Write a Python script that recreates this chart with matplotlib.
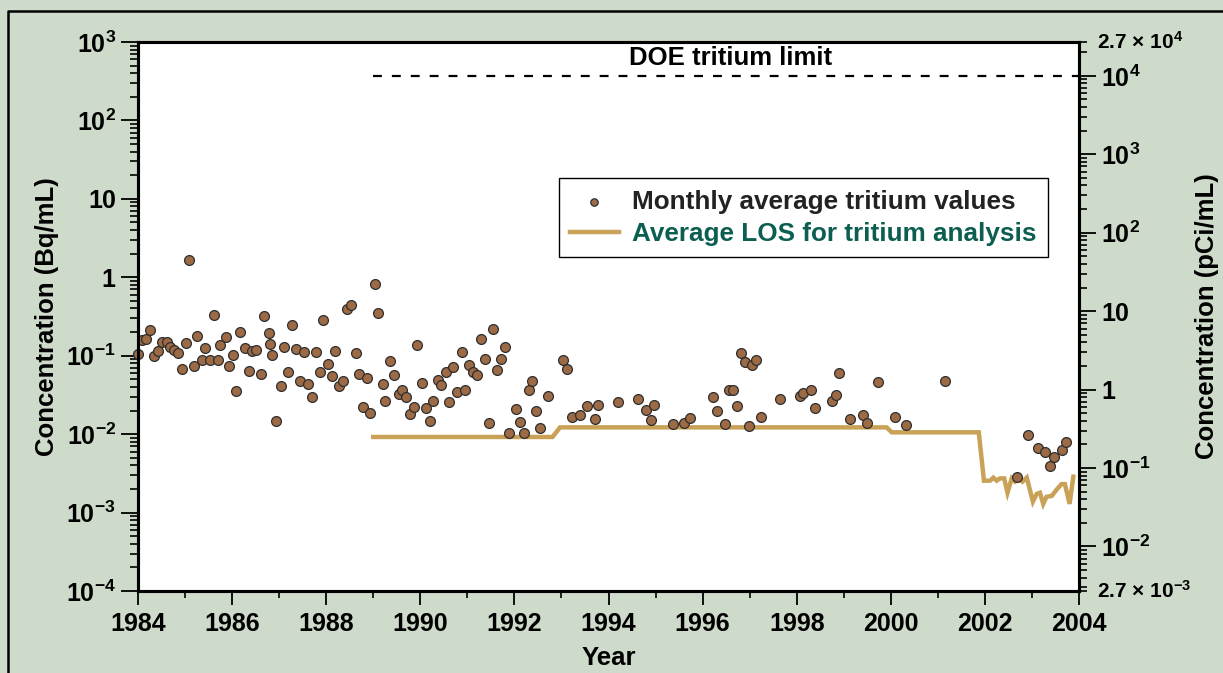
import numpy as np
import matplotlib
matplotlib.use('Agg')
from matplotlib import pyplot as plt
from matplotlib.lines import Line2D
from matplotlib.ticker import FixedLocator, NullFormatter

plt.rcParams['font.family'] = ['Liberation Sans', 'DejaVu Sans']
plt.rcParams['font.weight'] = 'bold'
plt.rcParams['axes.labelweight'] = 'bold'
plt.rcParams['mathtext.fontset'] = 'custom'
plt.rcParams['mathtext.rm'] = 'Liberation Sans:bold'
plt.rcParams['mathtext.it'] = 'Liberation Sans:bold'
plt.rcParams['mathtext.bf'] = 'Liberation Sans:bold'
plt.rcParams['mathtext.default'] = 'regular'

# monthly average tritium values (Bq/mL)
years = [1984.01, 1984.08, 1984.18, 1984.26, 1984.34, 1984.43, 1984.51, 1984.61, 1984.69, 1984.77,
         1984.84, 1984.94, 1985.02, 1985.09, 1985.18, 1985.26, 1985.35, 1985.42, 1985.52, 1985.61,
         1985.69, 1985.75, 1985.86, 1985.93, 1986.02, 1986.09, 1986.17, 1986.27, 1986.35, 1986.43,
         1986.51, 1986.61, 1986.67, 1986.78, 1986.80, 1986.85, 1986.94, 1987.03, 1987.10, 1987.19,
         1987.27, 1987.36, 1987.44, 1987.52, 1987.61, 1987.70, 1987.78, 1987.86, 1987.94, 1988.03,
         1988.12, 1988.19, 1988.28, 1988.36, 1988.44, 1988.53, 1988.63, 1988.69, 1988.78, 1988.86,
         1988.94, 1989.03, 1989.11, 1989.20, 1989.26, 1989.35, 1989.44, 1989.54, 1989.62, 1989.69,
         1989.79, 1989.87, 1989.94, 1990.04, 1990.12, 1990.21, 1990.28, 1990.37, 1990.45, 1990.54,
         1990.62, 1990.70, 1990.78, 1990.88, 1990.96, 1991.04, 1991.11, 1991.21, 1991.29, 1991.37,
         1991.45, 1991.55, 1991.62, 1991.72, 1991.80, 1991.88, 1992.04, 1992.12, 1992.20, 1992.30,
         1992.38, 1992.45, 1992.54, 1992.71, 1993.04, 1993.12, 1993.22, 1993.39, 1993.55, 1993.71,
         1993.78, 1994.21, 1994.63, 1994.80, 1994.90, 1994.97, 1995.38, 1995.61, 1995.73, 1996.23,
         1996.31, 1996.48, 1996.56, 1996.65, 1996.73, 1996.82, 1996.91, 1996.98, 1997.06, 1997.14,
         1997.24, 1997.65, 1998.07, 1998.14, 1998.31, 1998.39, 1998.74, 1998.83, 1998.90, 1999.14,
         1999.40, 1999.49, 1999.73, 2000.09, 2000.32, 2001.16, 2002.68, 2002.92, 2003.13, 2003.28,
         2003.38, 2003.47, 2003.64, 2003.72]
conc = [0.106, 0.157, 0.163, 0.213, 0.098, 0.115, 0.148, 0.151, 0.130, 0.119,
        0.109, 0.067, 0.144, 1.66, 0.073, 0.180, 0.088, 0.124, 0.087, 0.330,
        0.089, 0.137, 0.173, 0.075, 0.102, 0.036, 0.199, 0.124, 0.063, 0.115,
        0.119, 0.059, 0.324, 0.193, 0.140, 0.103, 0.0147, 0.041, 0.129, 0.0625,
        0.246, 0.122, 0.048, 0.112, 0.044, 0.0298, 0.112, 0.0625, 0.288, 0.078,
        0.055, 0.115, 0.041, 0.048, 0.394, 0.443, 0.107, 0.059, 0.0222, 0.052,
        0.0184, 0.828, 0.347, 0.044, 0.0262, 0.0857, 0.056, 0.0328, 0.0366, 0.0298,
        0.0182, 0.0222, 0.138, 0.0453, 0.0215, 0.0147, 0.0262, 0.0494, 0.042, 0.0615,
        0.0259, 0.0725, 0.0342, 0.112, 0.0369, 0.0762, 0.062, 0.0573, 0.165, 0.0917,
        0.0137, 0.217, 0.0652, 0.0917, 0.128, 0.0103, 0.0211, 0.0142, 0.0103, 0.0369,
        0.0476, 0.0196, 0.012, 0.0306, 0.088, 0.0678, 0.0164, 0.0174, 0.0226, 0.0155,
        0.0237, 0.0259, 0.0281, 0.0203, 0.015, 0.0237, 0.0135, 0.0137, 0.0159, 0.0298,
        0.0197, 0.0135, 0.0366, 0.0366, 0.0226, 0.107, 0.0824, 0.0126, 0.0762, 0.088,
        0.0166, 0.0281, 0.0309, 0.0332, 0.0366, 0.0215, 0.0265, 0.0313, 0.0607, 0.0157,
        0.0174, 0.014, 0.0458, 0.0164, 0.0131, 0.048, 0.00282, 0.00967, 0.00665, 0.00597,
        0.00389, 0.00507, 0.00628, 0.00787]

# average limit of sensitivity (Bq/mL)
los_years = [1989.0, 1992.81, 1992.97, 1999.91, 2000.02, 2001.87, 2001.98, 2002.11, 2002.18, 2002.25,
             2002.32, 2002.41, 2002.48, 2002.57, 2002.64, 2002.73, 2002.80, 2002.89, 2003.02, 2003.10,
             2003.17, 2003.24, 2003.31, 2003.42, 2003.53, 2003.63, 2003.70, 2003.80, 2003.88]
los_conc = [0.0092, 0.0092, 0.0122, 0.0122, 0.01055, 0.01055, 0.00255, 0.00255, 0.00279, 0.00255,
            0.00273, 0.00273, 0.00179, 0.00273, 0.00248, 0.00273, 0.00248, 0.00279, 0.00138, 0.00173,
            0.00179, 0.00129, 0.00159, 0.00163, 0.00198, 0.00231, 0.00231, 0.00129, 0.00287]

doe_limit = 370.0   # Bq/mL  (= 1e4 pCi/mL)
doe_start = 1989.0
bq_to_pci = 27.0

bg = '#cfdbca'
fig = plt.figure(figsize=(12.23, 6.73), dpi=100, facecolor=bg)
ax = fig.add_axes([138/1223, 82/673, 941/1223, 549/673])
ax.set_facecolor('white')

los_line, = ax.plot(los_years, los_conc, color='#c9a157', lw=3.2, solid_joinstyle='miter', zorder=2)
pts = ax.scatter(years, conc, s=50, c='#9c6b45', edgecolors='#2e2e2e', linewidths=0.9, zorder=3,
                 clip_on=False)
ax.plot([doe_start, 2004], [doe_limit, doe_limit], color='black', lw=1.6, ls=(0, (4, 4.5)), zorder=2)
ax.text(1996.6, 440, 'DOE tritium limit', ha='center', va='bottom', fontsize=18.5)

ax.set_yscale('log')
ax.set_xlim(1984, 2004)
ax.set_ylim(1e-4, 1e3)

ax.set_xticks(range(1984, 2005, 2))
ax.set_xticks(range(1985, 2004, 2), minor=True)
ax.set_yticks([1e-4, 1e-3, 1e-2, 1e-1, 1, 10, 1e2, 1e3],
              labels=['$10^{-4}$', '$10^{-3}$', '$10^{-2}$', '$10^{-1}$', '1', '10', '$10^{2}$', '$10^{3}$'])
ax.yaxis.set_minor_locator(FixedLocator([k * 10.0**d for d in range(-4, 3) for k in range(2, 10)]))
ax.yaxis.set_minor_formatter(NullFormatter())

ax.tick_params(which='major', direction='out', length=12, width=1.3, labelsize=18, pad=4)
ax.tick_params(which='minor', direction='out', length=6, width=1.2)
ax.tick_params(axis='x', which='major', length=10, pad=5)
ax.tick_params(axis='x', which='minor', length=5)
for s in ax.spines.values():
    s.set_linewidth(2.2)

ax.set_xlabel('Year', fontsize=18.5, labelpad=7)
ax.set_ylabel('Concentration (Bq/mL)', fontsize=18.5, labelpad=5)

leg = ax.legend([pts, los_line], ['Monthly average tritium values', 'Average LOS for tritium analysis'],
                loc='upper right', bbox_to_anchor=(0.967, 0.752), borderaxespad=0, fontsize=18.8,
                frameon=True, fancybox=False, edgecolor='black', framealpha=1, handlelength=1.85,
                handletextpad=0.5, borderpad=0.45, labelspacing=0.3, markerscale=0.75)
leg.get_frame().set_linewidth(1.0)
leg.get_texts()[0].set_color('#222222')
leg.get_texts()[1].set_color('#0b5e50')

# right axis in pCi/mL
ax2 = ax.twinx()
ax2.set_yscale('log')
ax2.set_ylim(1e-4 * bq_to_pci, 1e3 * bq_to_pci)
ax2.set_yticks([1e-2, 1e-1, 1, 10, 1e2, 1e3, 1e4],
               labels=['$10^{-2}$', '$10^{-1}$', '1', '10', '$10^{2}$', '$10^{3}$', '$10^{4}$'])
minor = [k * 10.0**d for d in range(-3, 5) for k in range(2, 10)
         if 2.7e-3 < k * 10.0**d < 2.7e4]
ends = [2.7e-3, 2.7e4]
ax2.yaxis.set_minor_locator(FixedLocator(minor + ends))
ax2.yaxis.set_minor_formatter(NullFormatter())
ax2.tick_params(which='major', direction='out', length=12, width=1.3, labelsize=18, pad=4)
ax2.tick_params(which='minor', direction='out', length=6, width=1.2)
for s in ax2.spines.values():
    s.set_linewidth(2.2)
ax2.text(1.019, 1.0, r'2.7 $\times$ $10^{4}$', transform=ax2.transAxes, fontsize=15,
         ha='left', va='center')
ax2.text(1.019, 0.0, r'2.7 $\times$ $10^{-3}$', transform=ax2.transAxes, fontsize=15,
         ha='left', va='center')
ax2.set_ylabel('Concentration (pCi/mL)', fontsize=18.5, labelpad=32)

# figure frame
fig.add_artist(Line2D([8/1223, 8/1223, 1.0], [0.0, 1 - 11/673, 1 - 11/673],
                      transform=fig.transFigure, color='black', lw=1.8))

fig.savefig('out.png', dpi=100, facecolor=bg)
